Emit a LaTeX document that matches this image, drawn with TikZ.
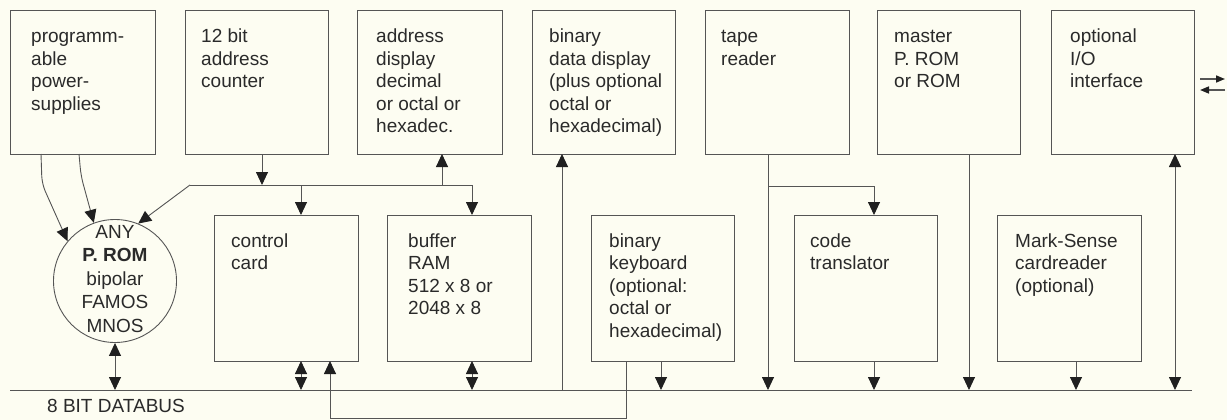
\documentclass[tikz,border=0pt]{standalone}
\usepackage{fontspec}
\setmainfont{Liberation Sans}
\usetikzlibrary{arrows.meta,calc}
\definecolor{bg}{HTML}{FDFDF2}
\definecolor{ln}{HTML}{555555}
\definecolor{tx}{HTML}{2A2A2A}
\definecolor{ah}{HTML}{202020}
\newcommand\lines[1]{\begin{tabular}[t]{@{}l@{}}#1\end{tabular}}
\newcommand\clines[1]{\begin{tabular}[t]{@{}c@{}}#1\end{tabular}}
\newcommand\blk[8]{%
  \node[boxst, minimum width={(#4-#2)*1pt}, minimum height={(#5-#3)*1pt}] (#1) at (#2,#3) {};%
  \node[txt] (#1-t) at ([xshift=#6pt,yshift=-#7pt]#1.north west) {\lines{#8}};}
\tikzset{
  boxst/.style={draw=ln, line width=0.9pt, rectangle, anchor=north west, inner sep=0pt, outer sep=0pt},
  txt/.style={anchor=base west, inner sep=0pt, text=tx, font=\fontsize{19}{22.5}\selectfont},
  conn/.style={draw=ln, line width=0.9pt},
  bigtip/.tip={Triangle[width=12pt,length=13pt,color=ah,fill=ah]},
  smalltip/.tip={Triangle[width=7pt,length=9pt,color=ah,fill=ah]},
  arr/.style={conn, -bigtip},
  darr/.style={conn, bigtip-bigtip},
  sarr/.style={conn, line width=1.6pt, -smalltip},
}
\begin{document}
\begin{tikzpicture}[x=1pt,y=-1pt]
\fill[bg] (0,0) rectangle (1227,420);
\useasboundingbox (0,0) rectangle (1227,420);
% top row
\blk{ps}{10}{10}{155}{154}{21}{33}{programm-\\able\\power-\\supplies}
\blk{ac}{185}{10}{328}{154}{16}{33}{12 bit\\address\\counter}
\blk{ad}{357}{10}{502}{154}{19}{33}{address\\display\\decimal\\or octal or\\hexadec.}
\blk{dd}{532}{10}{675}{154}{17}{33}{binary\\data display\\(plus optional\\octal or\\hexadecimal)}
\blk{tr}{705}{10}{849}{154}{16}{33}{tape\\reader}
\blk{mr}{877}{10}{1020}{154}{17}{33}{master\\P. ROM\\or ROM}
\blk{io}{1051}{10}{1194}{154}{19}{33}{optional\\I/O\\interface}
% bottom row
\blk{cc}{214}{215}{358}{361}{17}{32}{control\\card}
\blk{ram}{387}{215}{531}{361}{21}{32}{buffer\\RAM\\512 x 8 or\\2048 x 8}
\blk{kb}{591}{215}{734}{361}{18}{32}{binary\\keyboard\\(optional:\\octal or\\hexadecimal)}
\blk{ct}{794}{215}{937}{361}{16}{32}{code\\translator}
\blk{ms}{997}{215}{1141}{361}{18}{32}{Mark-Sense\\cardreader\\(optional)}
% P. ROM circle
\node[draw=ln, line width=0.9pt, circle, minimum size=123pt, inner sep=0pt] (circ) at (115,281) {};
\node[anchor=base, inner sep=0pt, text=tx, font=\fontsize{19}{23.5}\selectfont] (circ-t) at (115,238)
  {\clines{ANY\\\textbf{P. ROM}\\bipolar\\FAMOS\\MNOS}};
% databus
\coordinate (busL) at (10,390);
\coordinate (busR) at (1192,390);
\draw[conn] (busL) -- (busR);
\node[txt] (bus-t) at (47,412) {8 BIT DATABUS};
% address lines
\coordinate (j1) at (262,185);
\coordinate (ha) at (190,185);
\coordinate (hb) at (472,185);
\coordinate (jc) at (301,185);
\coordinate (jd) at (442,185);
\draw[conn] (ha) -- (hb);
\draw[arr] (j1 |- ac.south) -- (j1);
\draw[arr] (ha) -- (circ.68);
\draw[arr] (jc) -- (jc |- cc.north);
\draw[arr] (hb) -- (hb |- ram.north);
\draw[arr] (jd) -- (jd |- ad.south);
% power supplies
\coordinate (p1) at (41,154);
\coordinate (p1b) at (42,184);
\coordinate (p2) at (79,154);
\coordinate (p2b) at (81,176);
\draw[arr, rounded corners=8pt] (p1 |- ps.south) -- (p1b) -- (circ.140);
\draw[arr, rounded corners=8pt] (p2 |- ps.south) -- (p2b) -- (circ.110);
% circle to bus
\draw[darr] (circ.south) -- (circ.south |- busL);
% control card and RAM
\draw[darr] (cc.south -| jc) -- (jc |- busL);
\draw[darr] (ram.south -| hb) -- (hb |- busL);
% keyboard return line
\coordinate (r1) at (330,418);
\coordinate (r2) at (626,418);
\draw[arr] (r2 |- kb.south) -- (r2) -- (r1) -- (r1 |- cc.south);
\coordinate (xkb) at (661,390);
\draw[arr] (xkb |- kb.south) -- (xkb);
% data display
\coordinate (xdd) at (562,390);
\draw[arr] (xdd) -- (xdd |- dd.south);
% tape reader
\coordinate (xt) at (768,390);
\coordinate (tj) at (768,186);
\coordinate (tj2) at (874,186);
\draw[arr] (xt |- tr.south) -- (xt);
\draw[arr] (tj) -- (tj2) -- (tj2 |- ct.north);
\draw[arr] (ct.south -| tj2) -- (tj2 |- busL);
% master ROM
\coordinate (xm) at (969,390);
\draw[arr] (xm |- mr.south) -- (xm);
% mark sense
\coordinate (xms) at (1076,390);
\draw[arr] (xms |- ms.south) -- (xms);
% I/O
\coordinate (xio) at (1175,390);
\draw[darr] (xio) -- (xio |- io.south);
\coordinate (o1) at (1200,79);
\coordinate (o2) at (1225,79);
\coordinate (o3) at (1225,90);
\coordinate (o4) at (1200,90);
\draw[sarr] (o1) -- (o2);
\draw[sarr] (o3) -- (o4);
\end{tikzpicture}
\end{document}
